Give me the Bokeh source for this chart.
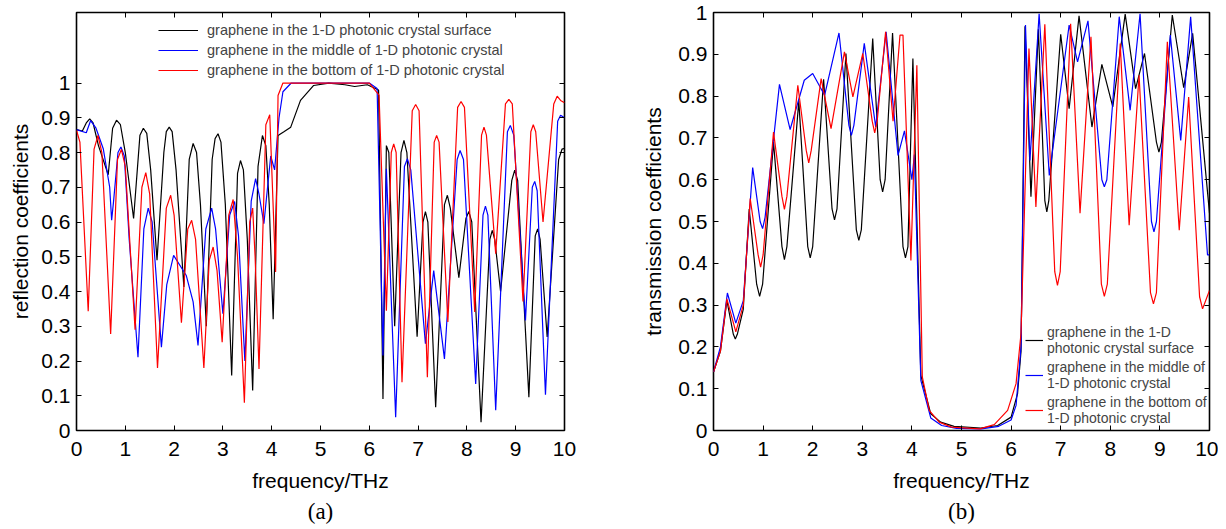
from bokeh.plotting import figure
from bokeh.layouts import row
from bokeh.models import Range1d, FixedTicker, LinearAxis, Legend, LegendItem, Title
from bokeh.embed import file_html
from bokeh.resources import INLINE

# ---------------- data ----------------
freq_ticks = [0, 1, 2, 3, 4, 5, 6, 7, 8, 9, 10]
coef_ticks = [0, 0.1, 0.2, 0.3, 0.4, 0.5, 0.6, 0.7, 0.8, 0.9, 1]
coef_labels = {0: "0", 0.1: "0.1", 0.2: "0.2", 0.3: "0.3", 0.4: "0.4", 0.5: "0.5",
               0.6: "0.6", 0.7: "0.7", 0.8: "0.8", 0.9: "0.9", 1: "1"}

series_names_a = ["graphene in the 1-D photonic crystal surface",
                  "graphene in the middle of 1-D photonic crystal",
                  "graphene in the bottom of 1-D photonic crystal"]
series_names_b = ["graphene in the 1-D\nphotonic crystal surface",
                  "graphene in the middle of\n1-D photonic crystal",
                  "graphene in the bottom of\n1-D photonic crystal"]

# (a) reflection, (frequency THz, coefficient) pairs
refl_surface = [(0, .866), (0.12, .862), (0.2, .885), (0.27, .897), (0.34, .885), (0.45, .82),
                (0.65, .736), (0.74, .87), (0.82, .893), (0.9, .88), (1.0, .80), (1.17, .61),
                (1.3, .85), (1.37, .87), (1.44, .855), (1.52, .75), (1.65, .49), (1.79, .80),
                (1.84, .86), (1.90, .873), (1.96, .86), (2.04, .75), (2.2, .413), (2.31, .78),
                (2.39, .826), (2.46, .80), (2.54, .65), (2.66, .30), (2.78, .78), (2.84, .84),
                (2.90, .854), (2.96, .83), (3.05, .65), (3.18, .158), (3.3, .74), (3.36, .777),
                (3.42, .75), (3.5, .55), (3.61, .115), (3.72, .76), (3.81, .849), (3.88, .82),
                (3.95, .65), (4.03, .32), (4.13, .849), (4.25, .86), (4.39, .873), (4.59, .95),
                (4.86, .993), (5.17, 1.0), (5.5, .995), (5.7, .99), (5.96, .995), (6.19, .98),
                (6.28, .091), (6.35, .82), (6.4, .80), (6.52, .3), (6.65, .80), (6.71, .835),
                (6.77, .80), (6.98, .27), (7.1, .60), (7.15, .63), (7.2, .60), (7.36, .067),
                (7.54, .65), (7.60, .677), (7.66, .64), (7.835, .44), (7.98, .61), (8.04, .63),
                (8.1, .60), (8.29, .024), (8.47, .55), (8.52, .576), (8.57, .55), (8.69, .40),
                (8.92, .72), (8.98, .749), (9.04, .72), (9.27, .096), (9.4, .56), (9.45, .58),
                (9.5, .55), (9.645, .269), (9.88, .78), (9.95, .81), (10.0, .812)]
refl_middle = [(0, .866), (0.2, .857), (0.29, .892), (0.4, .87), (0.55, .81), (0.68, .70),
               (0.72, .605), (0.76, .66), (0.85, .80), (0.91, .816), (0.98, .79), (1.08, .55),
               (1.26, .211), (1.38, .58), (1.47, .64), (1.55, .60), (1.74, .24), (1.85, .42),
               (1.99, .504), (2.25, .446), (2.39, .37), (2.49, .245), (2.65, .58), (2.77, .64),
               (2.85, .58), (3.0, .336), (3.14, .62), (3.24, .659), (3.32, .56), (3.45, .2),
               (3.58, .66), (3.67, .725), (3.74, .68), (3.84, .595), (3.98, .79), (4.06, .75),
               (4.15, .9), (4.23, .975), (4.4, 1.0), (6.0, 1.0), (6.16, .984), (6.28, .216),
               (6.35, .753), (6.54, .038), (6.72, .76), (6.78, .782), (6.85, .75), (7.15, .25),
               (7.32, .46), (7.54, .206), (7.8, .78), (7.86, .806), (7.93, .78), (8.18, .134),
               (8.33, .62), (8.38, .646), (8.43, .62), (8.59, .058), (8.83, .86), (8.89, .878),
               (8.96, .85), (9.2, .317), (9.34, .70), (9.39, .717), (9.44, .69), (9.61, .103),
               (9.86, .89), (9.92, .907), (10.0, .9)]
refl_bottom = [(0, .864), (0.07, .83), (0.24, .343), (0.36, .81), (0.44, .849), (0.52, .80),
               (0.70, .278), (0.84, .78), (0.92, .809), (1.0, .76), (1.2, .29), (1.34, .70),
               (1.42, .742), (1.5, .68), (1.66, .18), (1.84, .64), (1.93, .677), (2.0, .62),
               (2.15, .31), (2.28, .58), (2.36, .605), (2.44, .55), (2.61, .18), (2.72, .49),
               (2.80, .528), (2.88, .46), (2.985, .254), (3.12, .62), (3.21, .665), (3.3, .5),
               (3.44, .08), (3.55, .6), (3.61, .64), (3.66, .5), (3.74, .177), (3.88, .88),
               (3.96, .909), (4.08, .456), (4.13, .964), (4.23, 1.0), (6.0, 1.0), (6.2, .965),
               (6.35, .345), (6.45, .80), (6.5, .825), (6.55, .80), (6.67, .139), (6.88, .92),
               (6.95, .938), (7.02, .92), (7.19, .153), (7.33, .83), (7.38, .849), (7.43, .83),
               (7.61, .312), (7.81, .93), (7.88, .947), (7.95, .93), (8.16, .341), (8.3, .85),
               (8.35, .873), (8.4, .85), (8.59, .509), (8.79, .94), (8.86, .953), (8.93, .94),
               (9.15, .371), (9.31, .86), (9.36, .88), (9.41, .86), (9.56, .6), (9.78, .94),
               (9.85, .962), (9.92, .95), (10.0, .943)]

# (b) transmission
trans_surface = [(0, .14), (0.14, .19), (0.27, .311), (0.4, .23), (0.44, .219), (0.48, .23),
                 (0.6, .29), (0.72, .53), (0.87, .35), (0.93, .321), (0.99, .35), (1.21, .69),
                 (1.38, .44), (1.43, .409), (1.48, .44), (1.72, .788), (1.9, .44), (1.95, .413),
                 (2.0, .44), (2.22, .84), (2.39, .53), (2.44, .504), (2.49, .53), (2.67, .902),
                 (2.88, .48), (2.93, .455), (2.98, .48), (3.21, .938), (3.36, .60), (3.41, .571),
                 (3.46, .60), (3.61, .951), (3.82, .44), (3.87, .413), (3.92, .44), (4.02, .89),
                 (4.18, .132), (4.38, .04), (4.58, .02), (4.85, .01), (5.39, .006), (5.73, .012),
                 (6.0, .032), (6.13, .088), (6.2, .19), (6.28, .967), (6.40, .559), (6.55, .96),
                 (6.68, .55), (6.72, .523), (6.76, .55), (7.0, .948), (7.17, .77), (7.37, .992),
                 (7.63, .726), (7.83, .876), (8.05, .774), (8.30, .996), (8.51, .818),
                 (8.69, .902), (8.93, .69), (8.98, .666), (9.03, .69), (9.25, .994), (9.48, .82),
                 (9.66, .95), (10.0, .52)]
trans_middle = [(0, .14), (0.14, .2), (0.28, .329), (0.45, .257), (0.6, .31), (0.79, .629),
                (0.94, .50), (0.99, .483), (1.04, .51), (1.33, .828), (1.545, .72), (1.83, .838),
                (2.0, .854), (2.24, .802), (2.53, .951), (2.73, .73), (2.78, .706), (2.83, .73),
                (3.04, .926), (3.27, .726), (3.48, .954), (3.72, .658), (3.85, .717), (4.0, .60),
                (4.05, .66), (4.18, .12), (4.38, .03), (4.6, .012), (4.9, .005), (5.4, .004),
                (5.75, .01), (6.0, .025), (6.1, .06), (6.2, .2), (6.29, .97), (6.38, .646),
                (6.565, .997), (6.77, .61), (7.17, .97), (7.34, .882), (7.55, .98), (7.83, .60),
                (7.88, .583), (7.93, .60), (8.18, .99), (8.40, .766), (8.60, .997), (8.83, .50),
                (8.88, .475), (8.93, .50), (9.21, .946), (9.42, .694), (9.62, .99), (9.96, .42),
                (10.0, .42)]
trans_bottom = [(0, .14), (0.14, .19), (0.27, .315), (0.45, .236), (0.6, .3), (0.74, .555),
                (0.9, .42), (0.95, .391), (1.0, .42), (1.21, .714), (1.38, .56), (1.43, .529),
                (1.48, .56), (1.70, .826), (1.87, .67), (1.92, .64), (1.97, .67), (2.17, .842),
                (2.37, .722), (2.64, .906), (2.81, .798), (3.01, .902), (3.2, .74), (3.25, .712),
                (3.3, .74), (3.47, .954), (3.62, .74), (3.76, .946), (3.82, .946), (3.98, .407),
                (4.1, .874), (4.21, .128), (4.35, .048), (4.55, .02), (4.8, .008), (5.37, .004),
                (5.66, .014), (5.93, .048), (6.1, .112), (6.2, .232), (6.36, .914), (6.5, .535),
                (6.68, .972), (6.88, .38), (6.935, .347), (6.99, .38), (7.2, .973), (7.39, .52),
                (7.61, .942), (7.82, .35), (7.88, .321), (7.94, .35), (8.2, .926), (8.38, .491),
                (8.58, .85), (8.81, .33), (8.87, .303), (8.93, .33), (9.15, .93), (9.39, .479),
                (9.58, .798), (9.8, .32), (9.86, .291), (9.92, .31), (10.0, .335)]

colors = ["#000000", "#0000ff", "#ff0000"]

FONT = "Liberation Sans"


def style_axis(ax, ticks, show_labels=True, overrides=None):
    ax.ticker = FixedTicker(ticks=ticks)
    ax.major_tick_in = 5
    ax.major_tick_out = 0
    ax.minor_tick_line_color = None
    ax.axis_line_color = None
    ax.major_tick_line_width = 1
    ax.major_tick_line_color = "black"
    if overrides:
        ax.major_label_overrides = overrides
    if show_labels:
        ax.major_label_text_font = FONT
        ax.major_label_text_font_size = "21px"
        ax.major_label_text_color = "black"
        ax.axis_label_text_font = FONT
        ax.axis_label_text_font_size = "21px"
        ax.axis_label_text_font_style = "normal"
        ax.axis_label_text_color = "black"
    else:
        ax.major_label_text_font_size = "0px"
        ax.major_label_standoff = 0


def make_panel(ymax, ylabel, tag, border_left, border_right, frame_w):
    p = figure(frame_width=frame_w, frame_height=418,
               x_range=Range1d(0, 10), y_range=Range1d(0, ymax),
               output_backend="svg", toolbar_location=None,
               min_border_left=border_left, min_border_right=border_right,
               min_border_top=12, min_border_bottom=60)
    p.xgrid.visible = False
    p.ygrid.visible = False
    p.outline_line_color = "black"
    p.outline_line_width = 1.6
    p.background_fill_color = "white"
    p.border_fill_color = "white"

    style_axis(p.xaxis[0], freq_ticks)
    p.xaxis[0].axis_label = "frequency/THz"
    p.xaxis[0].major_label_standoff = 11
    p.xaxis[0].axis_label_standoff = 10
    style_axis(p.yaxis[0], coef_ticks, overrides=coef_labels)
    p.yaxis[0].axis_label = ylabel
    p.yaxis[0].major_label_standoff = 6

    top = LinearAxis()
    style_axis(top, freq_ticks, show_labels=False)
    p.add_layout(top, "above")
    right = LinearAxis()
    style_axis(right, coef_ticks, show_labels=False)
    p.add_layout(right, "right")

    p.add_layout(Title(text=tag, align="center", text_font="Liberation Serif",
                       text_font_size="23px", text_font_style="normal",
                       text_color="black", standoff=4), "below")
    return p


def xy(pairs):
    return [a for a, _ in pairs], [b for _, b in pairs]


# ---------------- panel (a) ----------------
pa = make_panel(1.203, "reflection coefficients", "(a)", 76, 46, 488)
pa.yaxis[0].axis_label_standoff = 6
ra = []
for pairs, c in [(refl_surface, colors[0]), (refl_middle, colors[1]), (refl_bottom, colors[2])]:
    xs, ys = xy(pairs)
    ra.append(pa.line(xs, ys, line_color=c, line_width=1.2))
leg_a = Legend(items=[LegendItem(label=n, renderers=[r]) for n, r in zip(series_names_a, ra)],
               location=(82, 350), padding=0, spacing=0, margin=0,
               label_height=20, glyph_height=20, glyph_width=40, label_standoff=9,
               border_line_alpha=0, background_fill_alpha=0,
               label_text_font=FONT, label_text_font_size="14.5px")
pa.add_layout(leg_a)

# ---------------- panel (b) ----------------
pb = make_panel(1.0, "transmission coefficients", "(b)", 103, 9, 496)
pb.yaxis[0].axis_label_standoff = 10
rb = []
for pairs, c in [(trans_surface, colors[0]), (trans_middle, colors[1]), (trans_bottom, colors[2])]:
    xs, ys = xy(pairs)
    rb.append(pb.line(xs, ys, line_color=c, line_width=1.2))
leg_b = Legend(items=[LegendItem(label=n, renderers=[r]) for n, r in zip(series_names_b, rb)],
               location=(312, 4), padding=0, spacing=3, margin=0,
               glyph_width=18, label_standoff=4,
               border_line_alpha=0, background_fill_alpha=0,
               label_text_font=FONT, label_text_font_size="14px",
               label_text_line_height=1.1)
pb.add_layout(leg_b)

layout = row(pa, pb)
open("out.html", "w").write(file_html(layout, INLINE))
